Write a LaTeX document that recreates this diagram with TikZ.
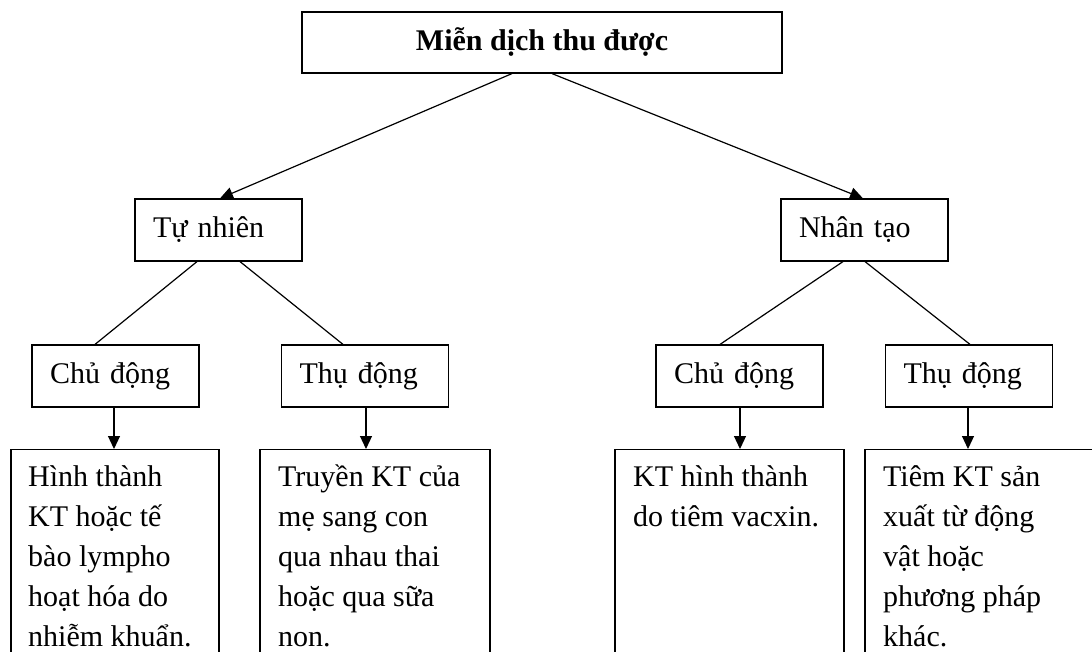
\documentclass[tikz,border=0pt]{standalone}
\usepackage{fontspec}
\setmainfont{Liberation Serif}
\usetikzlibrary{arrows.meta}

\begin{document}
\begin{tikzpicture}[x=1pt, y=-1pt,
  every node/.style={font=\fontsize{30}{40}\selectfont},
  frame/.style={draw, line width=1.2pt},
  box/.style={frame, rectangle, inner xsep=18pt, inner ysep=0pt,
    minimum height=62pt, text width=131pt, align=left},
  bigbox/.style={frame, rectangle, anchor=north, minimum height=260pt},
  bodytext/.style={anchor=north west, inner sep=0pt, align=left,
    execute at begin node={\rule{0pt}{28pt}}},
  conn/.style={line width=1.2pt},
  arr/.style={conn, -{Triangle[length=13pt,width=12pt]}}
]
\useasboundingbox (0,0) rectangle (1092,652);
\clip (0,0) rectangle (1092,652);

% root
\node[frame, minimum width=480pt, minimum height=61pt, inner sep=0pt,
  font=\fontsize{30}{40}\selectfont\bfseries] (root) at (542,42.5) {Miễn dịch thu được};

% second level
\node[box] (tn) at (218.5,230) {Tự nhiên};
\node[box] (nt) at (864.5,230) {Nhân tạo};

% third level
\node[box] (cd1) at (115.5,376) {Chủ động};
\node[box] (td1) at (365,376) {Thụ động};
\node[box] (cd2) at (739.5,376) {Chủ động};
\node[box] (td2) at (969,376) {Thụ động};

% description frames
\node[bigbox, minimum width=208pt] (d1) at (115,449) {};
\node[bigbox, minimum width=230pt] (d2) at (375,449) {};
\node[bigbox, minimum width=229pt] (d3) at (729.5,449) {};
\node[bigbox, minimum width=235pt] (d4) at (982.5,449) {};

% description texts
\node[bodytext] (t1) at (28,465) {Hình thành\\KT hoặc tế\\bào lympho\\hoạt hóa do\\nhiễm khuẩn.};
\node[bodytext] (t2) at (278,465) {Truyền KT của\\mẹ sang con\\qua nhau thai\\hoặc qua sữa\\non.};
\node[bodytext] (t3) at (633,465) {KT hình thành\\do tiêm vacxin.};
\node[bodytext] (t4) at (883,465) {Tiêm KT sản\\xuất từ động\\vật hoặc\\phương pháp\\khác.};

% connectors
\draw[arr] ([xshift=-30pt]root.south) -- ([xshift=1.5pt]tn.north);
\draw[arr] ([xshift=10pt]root.south) -- ([xshift=-1.5pt]nt.north);

\draw[conn] ([xshift=-21.5pt]tn.south) -- ([xshift=-20.5pt]cd1.north);
\draw[conn] ([xshift=21.5pt]tn.south) -- ([xshift=-22pt]td1.north);
\draw[conn] ([xshift=-21.5pt]nt.south) -- ([xshift=-19.5pt]cd2.north);
\draw[conn] ([xshift=0.5pt]nt.south) -- ([xshift=1pt]td2.north);

\draw[arr] ([xshift=-1.5pt]cd1.south) -- ([xshift=-1.5pt]cd1.south |- d1.north);
\draw[arr] ([xshift=1pt]td1.south) -- ([xshift=1pt]td1.south |- d2.north);
\draw[arr] ([xshift=0.5pt]cd2.south) -- ([xshift=0.5pt]cd2.south |- d3.north);
\draw[arr] ([xshift=-1pt]td2.south) -- ([xshift=-1pt]td2.south |- d4.north);
\end{tikzpicture}
\end{document}
